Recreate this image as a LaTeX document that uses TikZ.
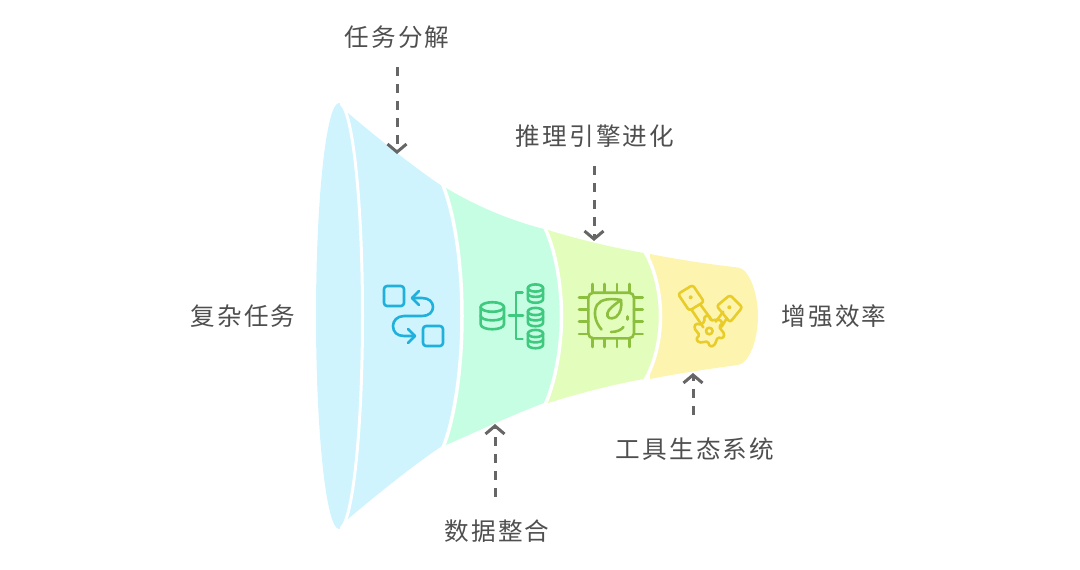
\documentclass[tikz,border=0pt]{standalone}
\usepackage{fontspec}
\setmainfont{Noto Sans CJK SC}[LetterSpace=9]
\usetikzlibrary{arrows.meta}
\definecolor{cblue}{HTML}{D0F4FE}
\definecolor{cgreen}{HTML}{C6FEE3}
\definecolor{clime}{HTML}{E3FDBC}
\definecolor{cyellow}{HTML}{FDF4B0}
\definecolor{iblue}{HTML}{1FB0DC}
\definecolor{igreen}{HTML}{3EC97F}
\definecolor{ilime}{HTML}{8DBF3F}
\definecolor{iyellow}{HTML}{E8CC2A}
\definecolor{ctext}{HTML}{4F4F4F}
\definecolor{carrow}{HTML}{666666}
\tikzset{
  x=1pt,y=-1pt,
  label text/.style={text=ctext,font=\fontsize{24.6}{28}\selectfont,inner sep=0pt},
  top label/.style={label text,outer ysep=19pt},
  low label/.style={label text,outer ysep=23pt},
  dasharrow/.style={draw=carrow,line width=3pt,dash pattern=on 8.5pt off 8.5pt,-{Straight Barb[length=8pt,width=19pt,line width=3pt]}},
  seam/.style={draw=white,line width=3.5pt},
  icon/.style={line width=2.6pt,line cap=round,line join=round},
}
\begin{document}
\begin{tikzpicture}
\useasboundingbox (0,0) rectangle (1080,570);
% funnel segments, narrow end first
\fill[cyellow] (650,254) .. controls (680,260) and (715,265) .. (738,267.5)
  .. controls (750,269) and (758,295) .. (758,316)
  .. controls (758,338) and (750,363) .. (738,365)
  .. controls (715,368) and (680,373) .. (650,379) -- cycle;
\fill[clime] (548,230) .. controls (580,240) and (615,248) .. (644,253)
  .. controls (654,268) and (660,292) .. (660,316)
  .. controls (660,340) and (654,364) .. (644,379)
  .. controls (615,384) and (580,393) .. (548,403) -- cycle;
\fill[cgreen] (446,188) .. controls (478,207) and (512,221) .. (544,229)
  .. controls (555,250) and (561,285) .. (561,316)
  .. controls (561,347) and (555,382) .. (544,403)
  .. controls (512,415) and (478,431) .. (446,445) -- cycle;
\fill[cblue] (348,113) .. controls (380,140) and (415,168) .. (442,186)
  .. controls (454,215) and (461,265) .. (461,316)
  .. controls (461,367) and (454,418) .. (442,446)
  .. controls (415,464) and (380,492) .. (348,519) -- cycle;
\fill[cblue] (339,316) ellipse[x radius=23,y radius=213];
% white seams
\draw[seam] (442.5,184) .. controls (455,215) and (462,265) .. (462,316)
  .. controls (462,367) and (455,418) .. (442.5,449);
\draw[seam] (544.5,227) .. controls (555.5,250) and (561.5,285) .. (561.5,316)
  .. controls (561.5,347) and (555.5,382) .. (544.5,406);
\draw[seam] (644.5,251) .. controls (654.5,268) and (660.5,292) .. (660.5,316)
  .. controls (660.5,340) and (654.5,364) .. (644.5,381);
\begin{scope}
\clip (340,95) rectangle (370,537);
\draw[draw=white,line width=3pt] (339,316) ellipse[x radius=23.5,y radius=213];
\end{scope}
% blue icon
\begin{scope}[icon,draw=iblue]
\draw[rounded corners=3pt] (384,286) rectangle (404,306);
\draw[rounded corners=3pt] (423,326) rectangle (443,346);
\draw (412,298) -- (422,298) .. controls (429,298) and (433,302) .. (433,307)
  .. controls (433,312) and (429,316) .. (422,316) -- (404,316)
  .. controls (397,316) and (393,321) .. (393,326)
  .. controls (393,332) and (397,336) .. (404,336) -- (415,336);
\draw (419,291) -- (412,298) -- (419,305);
\draw (408,329) -- (415,336) -- (408,343);
\end{scope}
% green icon
\begin{scope}[icon,draw=igreen]
\draw (492.3,307) ellipse[x radius=11.7,y radius=4.8];
\draw (480.6,307) -- (480.6,324) .. controls (480.6,331) and (504,331) .. (504,324) -- (504,307);
\draw (480.6,315.5) .. controls (480.6,322) and (504,322) .. (504,315.5);
\foreach \yy in {288,311.5,333.5}{
  \draw (535.5,\yy) ellipse[x radius=7.6,y radius=3.6];
  \draw (527.9,\yy) -- (527.9,\yy+11) .. controls (527.9,\yy+16) and (543.1,\yy+16) .. (543.1,\yy+11) -- (543.1,\yy);
  \draw (527.9,\yy+5.5) .. controls (527.9,\yy+10) and (543.1,\yy+10) .. (543.1,\yy+5.5);
}
\draw (522.5,292.5) -- (516,292.5) -- (516,339) -- (522.5,339);
\draw (509,315.7) -- (523,315.7);
\end{scope}
% lime icon
\begin{scope}[icon,draw=ilime]
\draw[rounded corners=5pt] (588.3,292.7) rectangle (634,338.3);
\foreach \p in {592.7,604.7,617,629.3}{
  \draw (\p,284) -- (\p,292.7);
  \draw (\p,338.3) -- (\p,347);
}
\foreach \p in {297.3,309.3,321.7,334}{
  \draw (579,\p) -- (588.3,\p);
  \draw (634,\p) -- (642.7,\p);
}
\draw (601.5,329.5) .. controls (595,322) and (593,312) .. (597,305)
  .. controls (601,299) and (610,298) .. (621,300);
\draw (621,300) .. controls (622,306) and (621,313) .. (616,317)
  .. controls (611,320) and (606,318) .. (607.5,313) .. controls (608.5,309) and (614,305) .. (621,300);
\draw (611,332) .. controls (617,332) and (621,330) .. (623.5,327);
\draw (627.5,316.5) -- (627.5,319.5);
\end{scope}
% yellow icon
\begin{scope}[icon,draw=iyellow]
\draw[rounded corners=2.5pt] (678,294) -- (692.7,285) -- (704,301.7) -- (689.3,310.7) -- cycle;
\draw[rounded corners=2.5pt] (716.7,306) -- (730,295) -- (742.3,307.3) -- (730,322.3) -- cycle;
\fill[iyellow] (690.7,297.3) circle[radius=2];
\fill[iyellow] (729.3,307.3) circle[radius=2];
\draw (691.7,310) -- (703.3,327.3);
\draw (700.7,305) -- (711.7,320);
\draw (715.7,321.7) -- (723.3,311.7);
\draw (721.7,326.7) -- (726.7,318.3);
\draw (709.3,331) circle[radius=3.3];
\begin{scope}[shift={(709.3,331)}]
\draw[rounded corners=1.5pt] (-117:10.5)
  -- (-109:15.5) -- (-91:15.5) -- (-83:10.5)
  -- (-49:15.5) -- (-31:15.5) -- (-23:10.5)
  -- (11:15.5) -- (29:15.5) -- (37:10.5)
  -- (71:15.5) -- (89:15.5) -- (97:10.5)
  -- (131:15.5) -- (149:15.5) -- (157:10.5)
  -- (191:15.5) -- (209:15.5) -- (217:10.5) -- cycle;
\end{scope}
\end{scope}
% labels and arrows
\node[top label] (t1) at (397,37) {任务分解};
\node[top label] (t2) at (595,136) {推理引擎进化};
\node[low label] (t3) at (497,531) {数据整合};
\node[low label] (t4) at (695,449) {工具生态系统};
\node[label text] (t5) at (243,316) {复杂任务};
\node[label text] (t6) at (834,316) {增强效率};
\coordinate (e1) at (397,154);
\coordinate (e2) at (594,241);
\coordinate (e3) at (495,424);
\coordinate (e4) at (693,373);
\draw[dasharrow] (e1 |- t1.south) -- (e1);
\draw[dasharrow] (e2 |- t2.south) -- (e2);
\draw[dasharrow] (e3 |- t3.north) -- (e3);
\draw[dasharrow] (e4 |- t4.north) -- (e4);
\end{tikzpicture}
\end{document}
